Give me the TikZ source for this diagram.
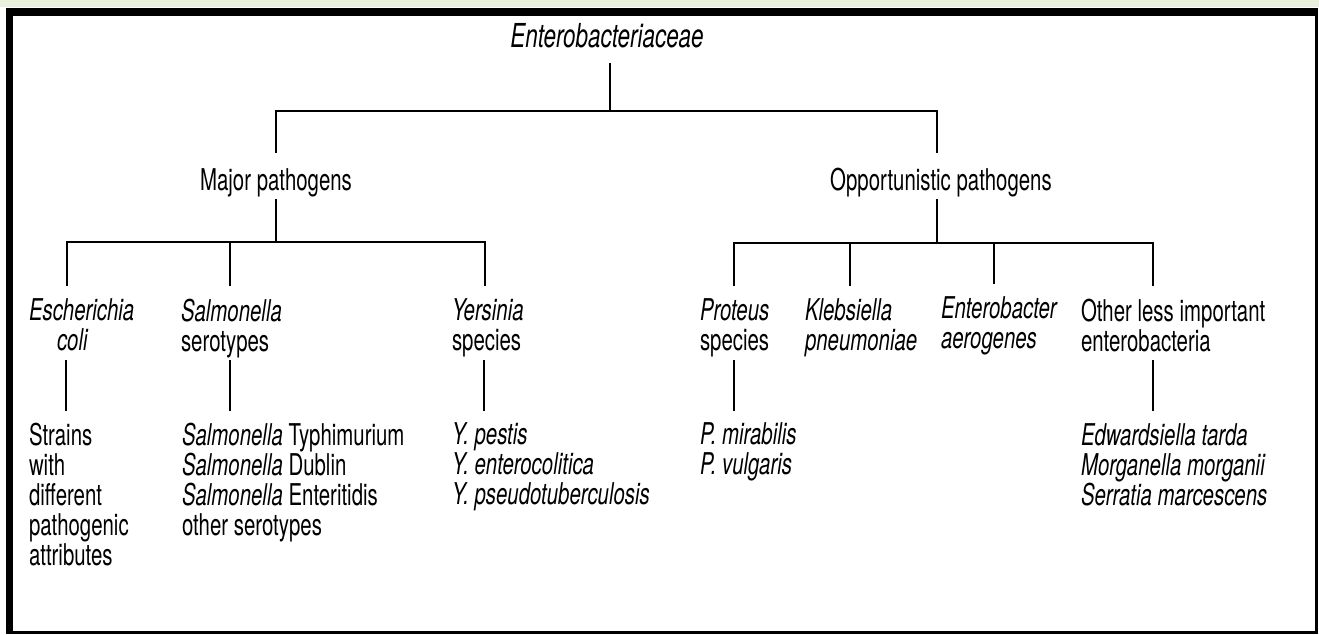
\documentclass[tikz,border=0pt]{standalone}
\usepackage{fontspec}
\setmainfont{TeX Gyre Heros}[FakeStretch=0.68]
\usepackage{tikz}
\usetikzlibrary{positioning}
\definecolor{stripgreen}{HTML}{E9F0DC}

\begin{document}
\begin{tikzpicture}[
    x=0.5pt, y=-0.5pt,
    txt/.style={inner sep=0pt, outer sep=0pt, align=left,
                font=\fontsize{15}{15}\selectfont,
                execute at begin node=\strut, execute at end node=\strut},
    link/.style={line width=0.8pt},
]

% Page and frame
\useasboundingbox (0,0) rectangle (1319,634);
\fill[white] (0,0) rectangle (1319,634);
\fill[stripgreen] (0,0) rectangle (1319,7);
\fill[black] (6,8) rectangle (1318,634);
\fill[white] (13,16) rectangle (1315,631);

% Family and the two groups
\node[txt, anchor=base, font=\fontsize{16.5}{16.5}\selectfont\itshape]
    (root) at (607,47) {Enterobacteriaceae};
\node[txt, anchor=base] (major) at (276,190) {Major pathogens};
\node[txt, anchor=base] (opport) at (941,190) {Opportunistic pathogens};

% Genera
\node[txt, anchor=north west] (ecoli) at (29,299)
    {\textit{Escherichia}\\\hspace*{14pt}\textit{coli}};
\node[txt, anchor=north west] (salm) at (181,299)
    {\textit{Salmonella}\\serotypes};
\node[txt, anchor=north west] (yers) at (452,299)
    {\textit{Yersinia}\\species};
\node[txt, anchor=north west] (prot) at (700,299)
    {\textit{Proteus}\\species};
\node[txt, anchor=north west] (kleb) at (805,299)
    {\textit{Klebsiella}\\\textit{pneumoniae}};
\node[txt, anchor=north west] (entb) at (941,297)
    {\textit{Enterobacter}\\\textit{aerogenes}};
\node[txt, anchor=north west] (other) at (1081,299)
    {Other less important\\enterobacteria};

% Species lists
\node[txt, below right=31.5pt and 0pt of ecoli.south west] (strains)
    {Strains\\with\\different\\pathogenic\\attributes};
\node[txt, below right=31.5pt and 0.5pt of salm.south west] (styph)
    {\textit{Salmonella} Typhimurium\\\textit{Salmonella} Dublin\\
     \textit{Salmonella} Enteritidis\\other serotypes};
\node[txt, below right=31.5pt and 0pt of yers.south west] (ypest)
    {\textit{Y. pestis}\\\textit{Y. enterocolitica}\\
     \textit{Y. pseudotuberculosis}};
\node[txt, below right=31.5pt and 0pt of prot.south west] (pmir)
    {\textit{P. mirabilis}\\\textit{P. vulgaris}};
\node[txt, below right=31.5pt and 0pt of other.south west] (edw)
    {\textit{Edwardsiella tarda}\\\textit{Morganella morganii}\\
     \textit{Serratia marcescens}};

% Family to groups
\draw[link, shorten <=3pt] ([xshift=1.5pt]root.south) --
    ([xshift=1.5pt, yshift=-27pt]root.south) coordinate (rootfork);
\draw[link, shorten >=7.5pt] (rootfork) -| (major.north);
\draw[link, shorten >=7.5pt] (rootfork) -| ([xshift=-2pt]opport.north);

% Groups to genera
\draw[link] (major.south) -- ([yshift=-21.5pt]major.south) coordinate (majorfork);
\foreach \kid/\dx in {ecoli/19pt, salm/24.5pt, yers/16.5pt}
    \draw[link, shorten >=6.5pt] (majorfork) -| ([xshift=\dx]\kid.north west);
\draw[link] ([xshift=-2pt]opport.south) --
    ([xshift=-2pt, yshift=-22pt]opport.south) coordinate (oppfork);
\foreach \kid/\dx in {prot/17pt, kleb/22.5pt, entb/26.5pt, other/36pt}
    \draw[link, shorten >=6.5pt] (oppfork) -| ([xshift=\dx]\kid.north west);

% Genera to species
\foreach \kid/\leaf/\dx in {ecoli/strains/18.5pt, salm/styph/24.5pt,
                           yers/ypest/16pt, prot/pmir/17pt, other/edw/36pt}
    \draw[link, shorten >=6pt]
        ([xshift=\dx]\kid.south west) -- ([xshift=\dx]\kid.south west |- \leaf.north);

\end{tikzpicture}
\end{document}
